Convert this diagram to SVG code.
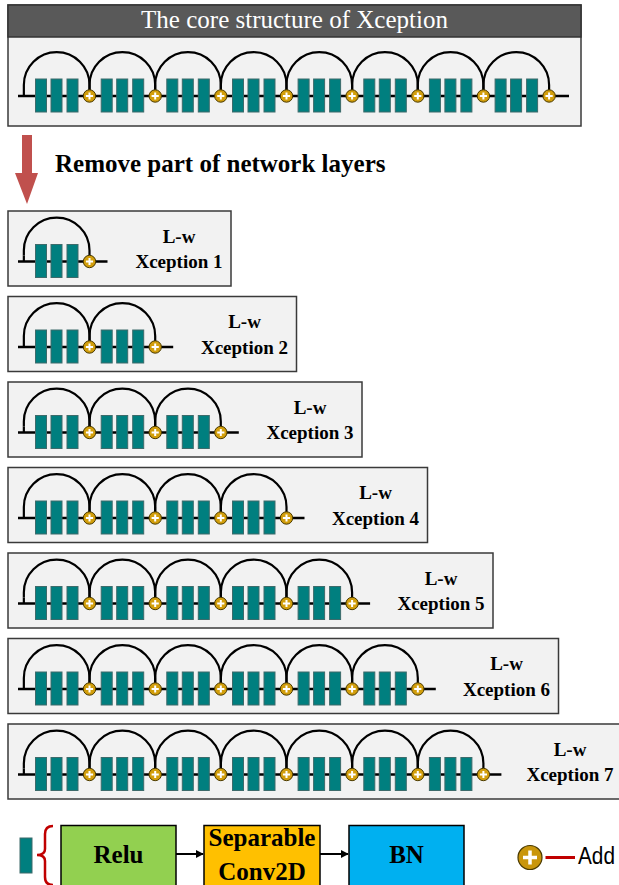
<svg xmlns="http://www.w3.org/2000/svg" width="619" height="885" viewBox="0 0 619 885">
<style>
.box{fill:#f2f2f2;stroke:#3a3a3a;stroke-width:1.5}
.ln{fill:none;stroke:#000;stroke-width:2.6}
.arc{fill:none;stroke:#000;stroke-width:2.2}
.blk{fill:#007f7f;stroke:#3d6b6b;stroke-width:1}
.add{fill:#d29e0b;stroke:#4a3a00;stroke-width:1}
.pl{stroke:#fff;stroke-width:2;fill:none}
.lbl{font-family:"Liberation Serif","Times New Roman",serif;font-weight:bold;font-size:19px;text-anchor:middle;fill:#000}
.big{font-family:"Liberation Serif","Times New Roman",serif;font-weight:bold;font-size:25px;fill:#000}
.lg{stroke:#000;stroke-width:1.5}
.con{stroke:#000;stroke-width:2;fill:none}
</style>
<defs>
<path id="arch" class="arc" d="M-65.65,-6 V-11 A32.8,32.8 0 0 1 0,-11 V-6"/>
<g id="unit">
<rect class="blk" x="-54" y="-17" width="11" height="33"/>
<rect class="blk" x="-38.5" y="-17" width="11" height="33"/>
<rect class="blk" x="-22.5" y="-17" width="11" height="33"/>
<circle class="add" r="6.2"/>
<path class="pl" d="M-3.6,0H3.6M0,-3.6V3.6"/>
</g>
<g id="start"><path class="arc" d="M23.85,0 V-6"/></g>
<marker id="ah" viewBox="0 0 10 10" refX="9" refY="5" markerWidth="4" markerHeight="4" orient="auto"><path d="M0,0 L10,5 L0,10 z" fill="#000"/></marker>
</defs>

<g id="core">
<rect class="box" x="8" y="5" width="573" height="121"/>
<rect x="8" y="5" width="573" height="32" fill="#595959" stroke="#333" stroke-width="1.5"/>
<text x="294.5" y="28" font-family="'Liberation Serif','Times New Roman',serif" font-size="25" fill="#fff" text-anchor="middle">The core structure of Xception</text>
<g transform="translate(0,96)">
<path class="ln" d="M18,0H569"/>
<use href="#start"/>
<use href="#arch" x="89.5"/><use href="#arch" x="155.2"/><use href="#arch" x="220.8"/><use href="#arch" x="286.5"/><use href="#arch" x="352.1"/><use href="#arch" x="417.8"/><use href="#arch" x="483.4"/><use href="#arch" x="549.1"/>
<use href="#unit" x="89.5"/><use href="#unit" x="155.2"/><use href="#unit" x="220.8"/><use href="#unit" x="286.5"/><use href="#unit" x="352.1"/><use href="#unit" x="417.8"/><use href="#unit" x="483.4"/><use href="#unit" x="549.1"/>
</g>
</g>

<g id="remove">
<path d="M22,135 H32 V173 H38 L27,204 L15,173 H22 Z" fill="#c0504d"/>
<text class="big" x="55" y="172">Remove part of network layers</text>
</g>

<g id="lw1">
<rect class="box" x="8" y="211" width="223" height="75"/>
<g transform="translate(0,261.5)">
<path class="ln" d="M18,0H107.5"/>
<use href="#start"/>
<use href="#arch" x="89.5"/>
<use href="#unit" x="89.5"/>
</g>
<text class="lbl" x="179" y="242.5">L-w</text>
<text class="lbl" x="179" y="268">Xception 1</text>
</g>

<g id="lw2">
<rect class="box" x="8" y="296.5" width="288.5" height="75"/>
<g transform="translate(0,347)">
<path class="ln" d="M18,0H173.2"/>
<use href="#start"/>
<use href="#arch" x="89.5"/><use href="#arch" x="155.2"/>
<use href="#unit" x="89.5"/><use href="#unit" x="155.2"/>
</g>
<text class="lbl" x="244.5" y="328">L-w</text>
<text class="lbl" x="244.5" y="353.5">Xception 2</text>
</g>

<g id="lw3">
<rect class="box" x="8" y="382" width="354" height="75"/>
<g transform="translate(0,432.5)">
<path class="ln" d="M18,0H238.8"/>
<use href="#start"/>
<use href="#arch" x="89.5"/><use href="#arch" x="155.2"/><use href="#arch" x="220.8"/>
<use href="#unit" x="89.5"/><use href="#unit" x="155.2"/><use href="#unit" x="220.8"/>
</g>
<text class="lbl" x="310" y="413.5">L-w</text>
<text class="lbl" x="310" y="439">Xception 3</text>
</g>

<g id="lw4">
<rect class="box" x="8" y="467.5" width="419.5" height="75"/>
<g transform="translate(0,518)">
<path class="ln" d="M18,0H304.5"/>
<use href="#start"/>
<use href="#arch" x="89.5"/><use href="#arch" x="155.2"/><use href="#arch" x="220.8"/><use href="#arch" x="286.5"/>
<use href="#unit" x="89.5"/><use href="#unit" x="155.2"/><use href="#unit" x="220.8"/><use href="#unit" x="286.5"/>
</g>
<text class="lbl" x="375.5" y="499">L-w</text>
<text class="lbl" x="375.5" y="524.5">Xception 4</text>
</g>

<g id="lw5">
<rect class="box" x="8" y="553" width="485" height="75"/>
<g transform="translate(0,603.5)">
<path class="ln" d="M18,0H370.1"/>
<use href="#start"/>
<use href="#arch" x="89.5"/><use href="#arch" x="155.2"/><use href="#arch" x="220.8"/><use href="#arch" x="286.5"/><use href="#arch" x="352.1"/>
<use href="#unit" x="89.5"/><use href="#unit" x="155.2"/><use href="#unit" x="220.8"/><use href="#unit" x="286.5"/><use href="#unit" x="352.1"/>
</g>
<text class="lbl" x="441" y="584.5">L-w</text>
<text class="lbl" x="441" y="610">Xception 5</text>
</g>

<g id="lw6">
<rect class="box" x="8" y="638.5" width="550.5" height="75"/>
<g transform="translate(0,689)">
<path class="ln" d="M18,0H435.8"/>
<use href="#start"/>
<use href="#arch" x="89.5"/><use href="#arch" x="155.2"/><use href="#arch" x="220.8"/><use href="#arch" x="286.5"/><use href="#arch" x="352.1"/><use href="#arch" x="417.8"/>
<use href="#unit" x="89.5"/><use href="#unit" x="155.2"/><use href="#unit" x="220.8"/><use href="#unit" x="286.5"/><use href="#unit" x="352.1"/><use href="#unit" x="417.8"/>
</g>
<text class="lbl" x="506.5" y="670">L-w</text>
<text class="lbl" x="506.5" y="695.5">Xception 6</text>
</g>

<g id="lw7">
<rect class="box" x="8" y="724" width="616" height="75"/>
<g transform="translate(0,774.5)">
<path class="ln" d="M18,0H501.4"/>
<use href="#start"/>
<use href="#arch" x="89.5"/><use href="#arch" x="155.2"/><use href="#arch" x="220.8"/><use href="#arch" x="286.5"/><use href="#arch" x="352.1"/><use href="#arch" x="417.8"/><use href="#arch" x="483.4"/>
<use href="#unit" x="89.5"/><use href="#unit" x="155.2"/><use href="#unit" x="220.8"/><use href="#unit" x="286.5"/><use href="#unit" x="352.1"/><use href="#unit" x="417.8"/><use href="#unit" x="483.4"/>
</g>
<text class="lbl" x="570" y="755.5">L-w</text>
<text class="lbl" x="570" y="781">Xception 7</text>
</g>

<g id="legend-block">
<rect class="blk" x="20" y="838" width="12" height="35"/>
<path d="M53,826 Q45,826 45,834 V849 Q45,855 37,855 Q45,855 45,861 V877 Q45,885 53,885" fill="none" stroke="#c00000" stroke-width="2.5"/>
</g>
<g id="relu">
<rect class="lg" x="61" y="825.5" width="115" height="70" fill="#92d050"/>
<text class="big" x="118.5" y="863" text-anchor="middle">Relu</text>
</g>
<g id="sepconv">
<rect class="lg" x="204" y="825.5" width="116" height="70" fill="#ffc000"/>
<text class="big" x="262" y="846" text-anchor="middle">Separable</text>
<text class="big" x="262" y="880" text-anchor="middle">Conv2D</text>
</g>
<g id="bn">
<rect class="lg" x="349" y="825.5" width="115" height="70" fill="#00b0f0"/>
<text class="big" x="406.5" y="863" text-anchor="middle">BN</text>
</g>
<g id="connectors">
<path class="con" d="M176,854 H203" marker-end="url(#ah)"/>
<path class="con" d="M320,854 H348" marker-end="url(#ah)"/>
</g>
<g id="legend-add">
<circle cx="530" cy="857.5" r="12" fill="#c9960c" stroke="#4a3a00" stroke-width="1.2"/>
<path d="M523,857.5H537M530,850.5V864.5" stroke="#fff" stroke-width="3.5"/>
<path d="M545.5,857.5H575" stroke="#c00000" stroke-width="3"/>
<text x="578" y="864" font-family="'Liberation Sans',Arial,sans-serif" font-size="23" textLength="37" lengthAdjust="spacingAndGlyphs">Add</text>
</g>
</svg>
